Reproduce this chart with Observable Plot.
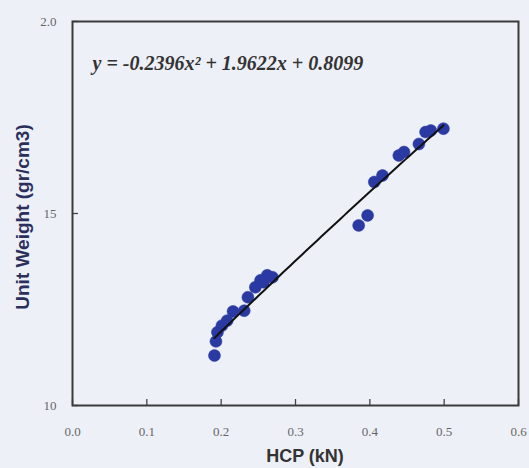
<!DOCTYPE html>
<html>
<head>
<meta charset="utf-8">
<script src="https://cdn.jsdelivr.net/npm/d3@7"></script>
<script src="https://cdn.jsdelivr.net/npm/@observablehq/plot@0.6"></script>
<style>
  html, body { margin: 0; padding: 0; background: #eef0f8; }
  #chart { width: 529px; height: 468px; }
  svg { display: block; }
</style>
</head>
<body>
<div id="chart"></div>
<script>
// HCP measurements (kN) and the matching unit weights (gr/cm3)
const hcp = [0.191, 0.193, 0.195, 0.201, 0.208, 0.216, 0.231, 0.236, 0.246, 0.253, 0.257, 0.262, 0.269,
             0.385, 0.397,
             0.406, 0.417, 0.439, 0.446, 0.466, 0.475, 0.482, 0.499];
const unitWeight = [1.130, 1.167, 1.191, 1.208, 1.221, 1.245, 1.247, 1.282, 1.308, 1.326, 1.321, 1.339, 1.334,
                    1.469, 1.495,
                    1.582, 1.599, 1.651, 1.660, 1.681, 1.712, 1.716, 1.721];

// Second-order trend: y = a x^2 + b x + c
const coefA = -0.2396, coefB = 1.9622, coefC = 0.8099;
const equationLabel = "y = -0.2396x\u00B2 + 1.9622x + 0.8099";

// Axis domains, ticks and their printed labels
const xDomain = [0, 0.6];
const yDomain = [1.0, 2.0];
const xTicks = [0.0, 0.1, 0.2, 0.3, 0.4, 0.5, 0.6];
const xTickLabels = ["0.0", "0.1", "0.2", "0.3", "0.4", "0.5", "0.6"];
const yTicks = [1.0, 1.5, 2.0];
const yTickLabels = ["10", "15", "2.0"];

const points = hcp.map((x, i) => ({x, y: unitWeight[i]}));
const [xMin, xMax] = d3.extent(hcp);
const trend = d3.range(0, 61).map(i => {
  const x = xMin + (xMax - xMin) * i / 60;
  return {x, y: coefA * x * x + coefB * x + coefC};
});

const W = 529, H = 468;
const margin = {left: 72, right: 11, top: 21, bottom: 63};
const innerW = W - margin.left - margin.right;
const innerH = H - margin.top - margin.bottom;

// inward tick length, 6px expressed in each axis' data units
const tickPx = 6;
const xTickSpan = (xDomain[1] - xDomain[0]) * tickPx / innerW;
const yTickSpan = (yDomain[1] - yDomain[0]) * tickPx / innerH;

const labelOf = (ticks, labels) => d => labels[ticks.findIndex(t => Math.abs(t - d) < 1e-9)];

const chart = Plot.plot({
  width: W,
  height: H,
  marginLeft: margin.left,
  marginRight: margin.right,
  marginTop: margin.top,
  marginBottom: margin.bottom,
  style: {background: "#eef0f8", overflow: "visible"},
  x: {domain: xDomain},
  y: {domain: yDomain},
  marks: [
    Plot.axisX({
      ticks: xTicks, tickSize: 0, tickPadding: 21,
      tickFormat: labelOf(xTicks, xTickLabels),
      fontFamily: "Liberation Serif", fontSize: 13, fill: "#666",
      label: null
    }),
    Plot.axisY({
      ticks: yTicks, tickSize: 0, tickPadding: 16,
      tickFormat: labelOf(yTicks, yTickLabels),
      fontFamily: "Liberation Serif", fontSize: 13, fill: "#666",
      label: null
    }),
    Plot.ruleX(xTicks, {x: d => d, y1: yDomain[0], y2: yDomain[0] + yTickSpan, stroke: "#444", strokeWidth: 1.3}),
    Plot.ruleY(yTicks, {y: d => d, x1: xDomain[0], x2: xDomain[0] + xTickSpan, stroke: "#444", strokeWidth: 1.3}),
    Plot.frame({stroke: "#3a3a3a", strokeWidth: 2}),
    Plot.dot(points, {x: "x", y: "y", r: 6, fill: "#2b3aa3", stroke: "#2b3aa3", strokeWidth: 0.5}),
    Plot.line(trend, {x: "x", y: "y", stroke: "#111", strokeWidth: 2}),
    Plot.text([equationLabel], {
      frameAnchor: "top-left", dx: 20, dy: 42, textAnchor: "start", lineAnchor: "middle",
      fontFamily: "Liberation Serif", fontStyle: "italic", fontWeight: "bold",
      fontSize: 20, fill: "#333"
    })
  ]
});

const svg = d3.select(chart);

// Axis titles
svg.append("text")
  .attr("x", 305).attr("y", 462)
  .attr("text-anchor", "middle")
  .attr("font-family", "Liberation Sans")
  .attr("font-weight", "bold")
  .attr("font-size", 18)
  .attr("fill", "#333")
  .text("HCP (kN)");

svg.append("text")
  .attr("transform", `translate(24,217) rotate(-90)`)
  .attr("text-anchor", "middle")
  .attr("dominant-baseline", "middle")
  .attr("font-family", "Liberation Sans")
  .attr("font-weight", "bold")
  .attr("font-size", 19)
  .attr("fill", "#2b2f5c")
  .text("Unit Weight (gr/cm3)");

document.getElementById("chart").appendChild(chart);
</script>
</body>
</html>
